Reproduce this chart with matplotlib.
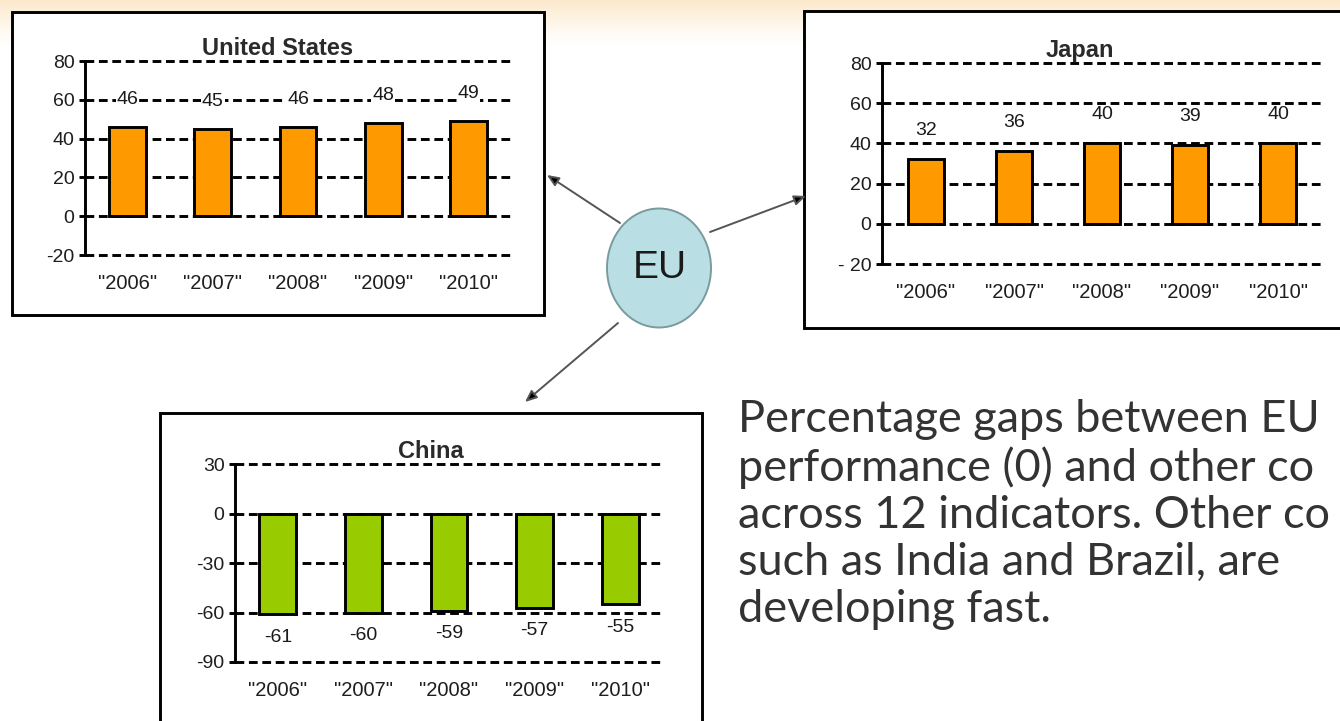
import numpy as np
import matplotlib
matplotlib.use("Agg")
import matplotlib.pyplot as plt
from matplotlib.patches import Rectangle, Ellipse

plt.rcParams['font.family'] = ['Liberation Sans', 'DejaVu Sans']

# data
years = ['"2006"', '"2007"', '"2008"', '"2009"', '"2010"']
us_gap = [46, 45, 46, 48, 49]
japan_gap = [32, 36, 40, 39, 40]
china_gap = [-61, -60, -59, -57, -55]

us_ticks = [-20, 0, 20, 40, 60, 80]
japan_ticks = [-20, 0, 20, 40, 60, 80]
japan_ticklabels = ['- 20', '0', '20', '40', '60', '80']
china_ticks = [-90, -60, -30, 0, 30]

# the note is cut at the right edge of the slide in the source
note_lines = ["Percentage gaps between EU",
              "performance (0) and other co",
              "across 12 indicators. Other co",
              "such as India and Brazil, are",
              "developing fast."]

W, H = 1340, 721
fig = plt.figure(figsize=(W / 100, H / 100), dpi=100)

# background layer in pixel coordinates
bg = fig.add_axes([0, 0, 1, 1])
rows = 46
grad = np.zeros((rows, 2, 4))
grad[..., :3] = np.array([252, 228, 192]) / 255
grad[..., 3] = (np.linspace(0.85, 0, rows) ** 1.2)[:, None]
bg.imshow(grad, extent=[0, W, rows, 0], aspect='auto', zorder=0)
bg.set_xlim(0, W)
bg.set_ylim(H, 0)
bg.axis('off')


def px_rect(l, t, r, b):
    return [l / W, 1 - b / H, (r - l) / W, (b - t) / H]


def frame(l, t, r, b):
    bg.add_patch(Rectangle((l, t), r - l, b - t, facecolor='white',
                           edgecolor='black', lw=2.1, zorder=2, clip_on=False))


def panel(rect, vals, color, title, ticks, ticklabels, width, off, title_x):
    ax = fig.add_axes(px_rect(*rect))
    ax.set_facecolor('none')
    x = np.arange(len(years))
    ax.bar(x, vals, width=width, color=color, edgecolor='black', linewidth=2.1, zorder=3)
    for t in ticks:
        ax.axhline(t, color='black', lw=2.1, dashes=(3, 1.6), zorder=1, clip_on=False)
    ax.set_xlim(-0.5, len(years) - 0.5)
    ax.set_ylim(ticks[0], ticks[-1])
    for s in ['top', 'right', 'bottom']:
        ax.spines[s].set_visible(False)
    ax.spines['left'].set_linewidth(2.1)
    ax.set_yticks(ticks, ticklabels)
    ax.set_xticks(x, years)
    ax.tick_params(axis='y', length=4.5, width=2.1, pad=3, labelsize=14, labelcolor='#1e1e1e')
    ax.tick_params(axis='x', length=0, pad=14, labelsize=14.5, labelcolor='#1e1e1e')
    for xi, v in zip(x, vals):
        ax.annotate(str(v), (xi, v), xytext=(0, off), textcoords='offset points',
                    ha='center', va='center', fontsize=14, color='#1a1a1a', zorder=4,
                    bbox=dict(fc='white', ec='none', pad=0.6))
    ax.set_title(title, fontsize=17, fontweight='bold', x=title_x, pad=4, color='#2a2a2a')
    return ax


frame(12, 12, 544, 315)
frame(804, 11, 1360, 328)
frame(160, 413, 702, 740)

panel((85, 61, 511, 255), us_gap, '#FF9900', 'United States', us_ticks,
      [str(t) for t in us_ticks], 0.43, 20, 0.453)
panel((882, 63, 1322, 264), japan_gap, '#FF9900', 'Japan', japan_ticks,
      japan_ticklabels, 0.41, 21, 0.449)
panel((235, 464, 663, 662), china_gap, '#99CC00', 'China', china_ticks,
      [str(t) for t in china_ticks], 0.43, -16.5, 0.458)

# EU bubble with arrows to the three panels
arrow = dict(arrowstyle='-|>,head_length=0.7,head_width=0.3', edgecolor='#555555',
             facecolor='black', lw=1.4, shrinkA=0, shrinkB=0)
bg.annotate('', xy=(547, 175), xytext=(620, 223), arrowprops=arrow, zorder=3)
bg.annotate('', xy=(806, 196), xytext=(710, 232), arrowprops=arrow, zorder=3)
bg.annotate('', xy=(525, 402), xytext=(618, 323), arrowprops=arrow, zorder=3)
bg.add_patch(Ellipse((659, 268), 104, 119, facecolor='#B9DFE4', edgecolor='#7A9A9E',
                     lw=1.4, zorder=4))
bg.text(660, 268, 'EU', fontsize=28, ha='center', va='center', color='#1a1a1a', zorder=5)

for i, line in enumerate(note_lines):
    bg.text(738, 420 + i * 47.5, line, fontsize=32.5, family=['Lato', 'DejaVu Sans'],
            ha='left', va='center', color='#333333', zorder=5)

fig.savefig('out.png', dpi=100)
